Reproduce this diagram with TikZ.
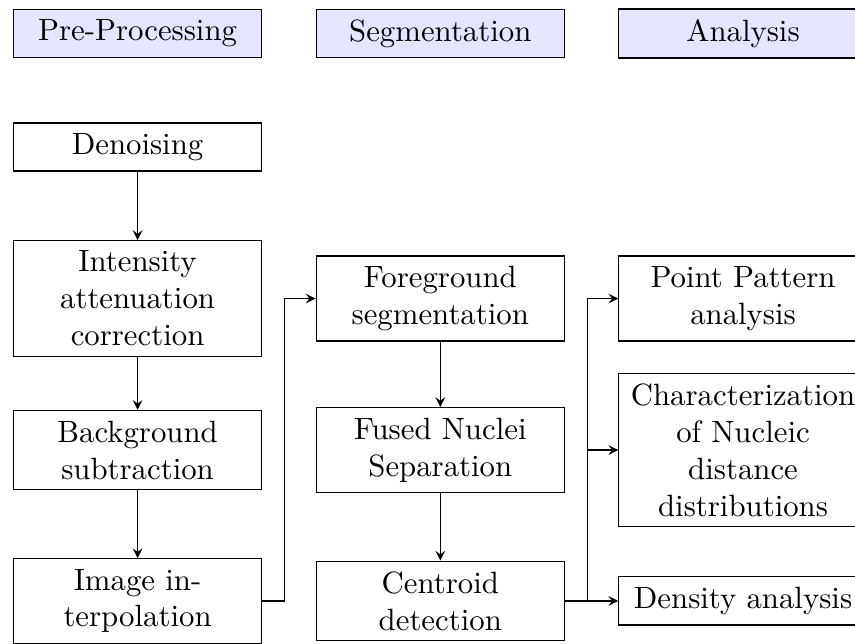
\documentclass[tikz,border=0pt]{standalone}
\usepackage{xcolor}
\usepackage{tikz}
\usetikzlibrary{positioning, calc, arrows}

\begin{document}
\begin{tikzpicture}[
    stage/.style={
        rectangle, draw=black, fill=blue!10,
        text width=2.6cm, align=center
    },
    process/.style={
        rectangle, draw=black,
        text width=2.6cm, align=center
    },
    flow/.style={-stealth, draw=black}
]
\useasboundingbox (0,0) rectangle (9.758,-7.339);

% Stage headers
\node[stage] (pre) at (1.57,-0.382)  {Pre-Processing};
\node[stage] (seg) at (5.025,-0.382) {Segmentation};
\node[stage] (ana) at (8.48,-0.382)  {Analysis};

% Pre-processing steps
\node[process] (den) at (1.57,-1.678) {Denoising};
\node[process] (att) at (1.57,-3.407) {Intensity attenuation correction};
\node[process] (bg)  at (1.57,-5.136) {Background subtraction};
\node[process] (img) at (1.57,-6.859) {Image in-\\terpolation};

% Segmentation steps
\node[process] (fg)  at (5.025,-3.407) {Foreground segmentation};
\node[process] (fus) at (5.025,-5.136) {Fused Nuclei Separation};
\node[process] (cen) at (5.025,-6.859) {Centroid detection};

% Analysis steps
\node[process] (pp)   at (8.48,-3.407) {Point Pattern analysis};
\node[process] (chr)  at (8.48,-5.136) {Characterization of Nucleic distance distributions};
\node[process] (dens) at (8.48,-6.859) {Density analysis};

% Flow inside the columns
\draw[flow] (den) -- (att);
\draw[flow] (att) -- (bg);
\draw[flow] (bg) -- (img);
\draw[flow] (fg) -- (fus);
\draw[flow] (fus) -- (cen);

% Flow between the columns
\draw[flow] (img.east) -- ++(0.25,0) |- (fg.west);
\coordinate (split) at ($(cen.east)+(0.26,0)$);
\draw[flow] (cen.east) -- (dens.west);
\draw[flow] (split) |- (pp.west);
\draw[flow] (split) |- (chr.west);

\end{tikzpicture}
\end{document}
